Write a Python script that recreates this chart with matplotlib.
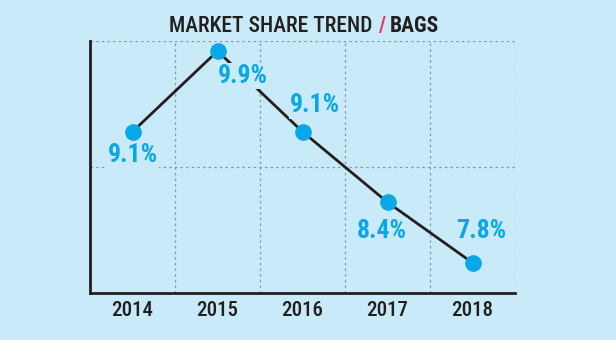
import matplotlib
matplotlib.use("Agg")
import matplotlib.pyplot as plt
from matplotlib import font_manager as fm

years = ["2014", "2015", "2016", "2017", "2018"]
share = [9.1, 9.9, 9.1, 8.4, 7.8]
labels = ["9.1%", "9.9%", "9.1%", "8.4%", "7.8%"]
# label offsets in points (dx, dy) relative to each point
offsets = [(0, -17), (18, -18), (9, 19), (-4, -21), (6, 23)]

BG = "#c9eaf8"
BLUE = "#08a8e8"
DARK = "#231f20"
PINK = "#e8336f"

installed = {f.name for f in fm.fontManager.ttflist}
COND = next((n for n in ["Roboto Condensed", "Barlow Condensed", "Fira Sans Condensed",
                         "Archivo Narrow", "DejaVu Sans"] if n in installed), "DejaVu Sans")

fig = plt.figure(figsize=(6.16, 3.4), dpi=100, facecolor=BG)
ax = fig.add_axes([90 / 616, 47 / 340, 425 / 616, 252 / 340])
ax.set_facecolor(BG)

x = list(range(len(years)))
ax.plot(x, share, color=DARK, lw=2.0, zorder=2)
ax.plot(x, share, "o", color=BLUE, ms=11, zorder=3)

for xi, yi, lab, (dx, dy) in zip(x, share, labels, offsets):
    ax.annotate(lab, (xi, yi), xytext=(dx, dy), textcoords="offset points",
                ha="center", va="center", color=BLUE, fontsize=18.5,
                fontweight="heavy", family=COND, zorder=4,
                bbox=dict(boxstyle="square,pad=0.05", fc=BG, ec="none"))

ax.set_xlim(-0.5, 4.5)
ax.set_ylim(7.5, 10.0)
ax.set_xticks(x)
ax.set_xticklabels(years, fontsize=15, family=COND, color=DARK, fontweight="medium")
ax.set_yticks([])
ax.tick_params(axis="x", length=0, pad=6)

# dotted grid
for xv in [0.5, 1.5, 2.5, 3.5, 4.5]:
    ax.axvline(xv, color="#8a979e", lw=0.9, ls=(0, (2, 2.5)), zorder=1)
for yv in [8.75, 10.0]:
    ax.axhline(yv, color="#8a979e", lw=0.9, ls=(0, (2, 2.5)), zorder=1)

for s in ["top", "right"]:
    ax.spines[s].set_visible(False)
for s in ["left", "bottom"]:
    ax.spines[s].set_color(DARK)
    ax.spines[s].set_linewidth(2.0)

# title in three coloured pieces
fig.canvas.draw()
r = fig.canvas.get_renderer()
parts = [("MARKET SHARE TREND ", DARK, "medium"), ("/ ", PINK, "bold"), ("BAGS", DARK, "heavy")]
texts = []
for s, c, w in parts:
    t = fig.text(0, 0, s, color=c, fontweight=w, fontsize=15.5, family=COND, va="baseline")
    texts.append(t)
widths = [t.get_window_extent(r).width for t in texts]
total = sum(widths)
x0 = 304 - total / 2
ybase = 1 - 32 / 340
for t, w in zip(texts, widths):
    t.set_position((x0 / 616, ybase))
    x0 += w

fig.savefig("out.png", dpi=100, facecolor=BG)
